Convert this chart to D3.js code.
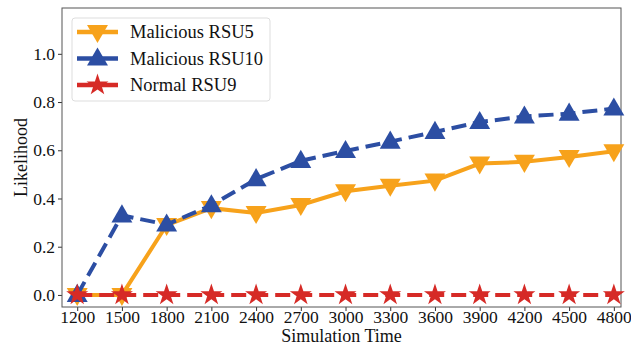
<!DOCTYPE html>
<html>
<head>
<meta charset="utf-8">
<script src="https://cdn.jsdelivr.net/npm/d3@7"></script>
<style>
  body { margin: 0; background: #fff; }
  svg { display: block; font-family: "Liberation Serif", "Times New Roman", serif; }
</style>
</head>
<body>
<div id="chart"></div>
<script>
const times = [1200, 1500, 1800, 2100, 2400, 2700, 3000, 3300, 3600, 3900, 4200, 4500, 4800];
const rsu5 = [0, 0, 0.29, 0.36, 0.34, 0.373, 0.43, 0.453, 0.474, 0.545, 0.552, 0.572, 0.596];
const rsu10 = [0, 0.33, 0.292, 0.372, 0.48, 0.556, 0.597, 0.636, 0.676, 0.717, 0.74, 0.752, 0.773];
const rsu9 = [0, 0, 0, 0, 0, 0, 0, 0, 0, 0, 0, 0, 0];
const yTicks = [0.0, 0.2, 0.4, 0.6, 0.8, 1.0];

const series = [
  { name: "Malicious RSU5", values: rsu5, color: "#f7a21b", dash: null, marker: "down" },
  { name: "Malicious RSU10", values: rsu10, color: "#2c4ea3", dash: "15,7", marker: "up" },
  { name: "Normal RSU9", values: rsu9, color: "#d62a26", dash: "15,7", marker: "star" }
];

const width = 631, height = 347;
const margin = { top: 8, right: 10, bottom: 40, left: 62 };

const svg = d3.select("#chart").append("svg")
  .attr("width", width)
  .attr("height", height);

const x = d3.scaleLinear()
  .domain([1200 - 102, 4800 + 48])
  .range([margin.left, width - margin.right]);

const y = d3.scaleLinear()
  .domain([-0.05, 1.19])
  .range([height - margin.bottom, margin.top]);

const serif = "Liberation Serif";

// axes
svg.append("g")
  .attr("transform", `translate(0,${height - margin.bottom})`)
  .call(d3.axisBottom(x).tickValues(times).tickSize(4).tickPadding(0).tickFormat(d3.format("d")))
  .call(g => g.select(".domain").remove())
  .call(g => g.selectAll("line").attr("stroke", "#333"))
  .call(g => g.selectAll("text").attr("font-size", 17.5).attr("fill", "#111").attr("font-family", serif));

svg.append("g")
  .attr("transform", `translate(${margin.left},0)`)
  .call(d3.axisLeft(y).tickValues(yTicks).tickSize(4).tickPadding(3).tickFormat(d3.format(".1f")))
  .call(g => g.select(".domain").remove())
  .call(g => g.selectAll("line").attr("stroke", "#333"))
  .call(g => g.selectAll("text").attr("font-size", 17.5).attr("fill", "#111").attr("font-family", serif));

// frame
svg.append("rect")
  .attr("x", margin.left)
  .attr("y", margin.top)
  .attr("width", width - margin.left - margin.right)
  .attr("height", height - margin.top - margin.bottom)
  .attr("fill", "none")
  .attr("stroke", "#555")
  .attr("stroke-width", 1);

// axis labels
svg.append("text")
  .attr("x", (margin.left + width - margin.right) / 2)
  .attr("y", 342)
  .attr("text-anchor", "middle")
  .attr("font-size", 18)
  .attr("fill", "#111")
  .attr("font-family", serif)
  .text("Simulation Time");

svg.append("text")
  .attr("transform", `translate(21,${(margin.top + height - margin.bottom) / 2}) rotate(-90)`)
  .attr("text-anchor", "middle")
  .attr("dy", "0.35em")
  .attr("font-size", 18)
  .attr("fill", "#111")
  .attr("font-family", serif)
  .text("Likelihood");

const tri = d3.symbol().type(d3.symbolTriangle).size(190);
const star = d3.symbol().type(d3.symbolStar).size(150);

function drawMarker(g, s, cx, cy) {
  if (s.marker === "star") {
    g.append("path").attr("d", star())
      .attr("transform", `translate(${cx},${cy})`)
      .attr("fill", s.color);
  } else {
    g.append("path").attr("d", tri())
      .attr("transform", `translate(${cx},${cy + (s.marker === "down" ? -1 : 1)}) rotate(${s.marker === "down" ? 180 : 0})`)
      .attr("fill", s.color);
  }
}

const line = d3.line()
  .x((d, i) => x(times[i]))
  .y(d => y(d));

series.forEach(s => {
  const g = svg.append("g");
  g.append("path")
    .datum(s.values)
    .attr("d", line)
    .attr("fill", "none")
    .attr("stroke", s.color)
    .attr("stroke-width", 4)
    .attr("stroke-dasharray", s.dash);
  s.values.forEach((v, i) => drawMarker(g, s, x(times[i]), y(v)));
});

// legend
const legend = svg.append("g");
legend.append("rect")
  .attr("x", 72).attr("y", 18)
  .attr("width", 198).attr("height", 83)
  .attr("rx", 3)
  .attr("fill", "#fff")
  .attr("fill-opacity", 0.8)
  .attr("stroke", "#ddd");

series.forEach((s, i) => {
  const ly = 32 + i * 26.5;
  const g = legend.append("g");
  g.append("line")
    .attr("x1", 77).attr("x2", 118)
    .attr("y1", ly).attr("y2", ly)
    .attr("stroke", s.color)
    .attr("stroke-width", 4.5);
  drawMarker(g, s, 97.5, ly);
  g.append("text")
    .attr("x", 130).attr("y", ly)
    .attr("dy", "0.35em")
    .attr("font-size", 18.5)
    .attr("fill", "#111")
    .attr("font-family", serif)
    .text(s.name);
});
</script>
</body>
</html>
